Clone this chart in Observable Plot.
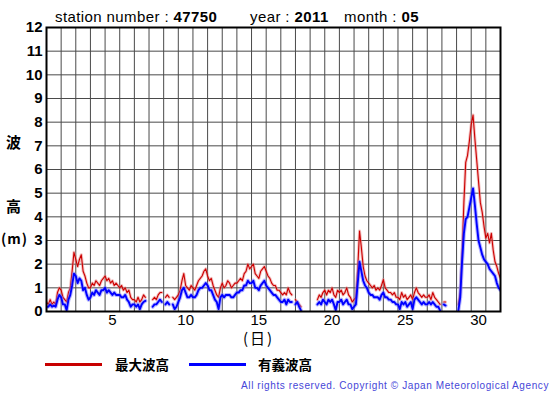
<!DOCTYPE html>
<html><head><meta charset="utf-8">
<script src="https://cdn.jsdelivr.net/npm/d3@7"></script>
<script src="https://cdn.jsdelivr.net/npm/@observablehq/plot@0.6"></script>
<style>
body{margin:0;background:#fff;}
#wrap{position:relative;width:555px;height:395px;overflow:hidden;font-family:"Liberation Sans",Arial,sans-serif;color:#000;}
#chart{position:absolute;left:0;top:0;}
.abs{position:absolute;white-space:nowrap;line-height:16px;}
.ttl{font-size:15px;letter-spacing:0.4px;top:9px;}
.cjk{font-family:"Noto Sans CJK JP","Liberation Sans",sans-serif;font-weight:bold;}
.leg{position:absolute;height:3px;}
</style></head><body>
<div id="wrap">
<div id="chart"></div>
<div class="abs ttl" style="left:55px;">station number : <b>47750</b></div>
<div class="abs ttl" style="left:250px;">year : <b>2011</b></div>
<div class="abs ttl" style="left:344px;">month : <b>05</b></div>
<div class="abs cjk" style="left:6px;top:133px;font-size:15px;line-height:18px;">波</div>
<div class="abs cjk" style="left:6px;top:197px;font-size:15px;line-height:18px;">高</div>
<div class="abs cjk" style="left:1px;top:229px;font-size:14px;line-height:18px;letter-spacing:1px;">(m)</div>
<div class="abs cjk" style="left:243px;top:329px;font-size:15px;line-height:18px;font-weight:normal;letter-spacing:2px;">(日)</div>
<div class="leg" style="left:45px;top:363px;width:57px;background:#c80000;"></div>
<div class="abs cjk" style="left:115px;top:356px;font-size:13.5px;">最大波高</div>
<div class="leg" style="left:189px;top:363px;width:57px;background:#0000ff;"></div>
<div class="abs cjk" style="left:258px;top:356px;font-size:13.5px;">有義波高</div>
<div class="abs" style="right:6px;top:378px;font-size:10px;letter-spacing:0.6px;color:#4646d8;">All rights reserved. Copyright © Japan Meteorological Agency</div>
</div>
<script>
// 3-hourly values from 1 May 00:00 to 1 June 00:00 (null = missing)
const maxWave = [
  0.4, 0.3, 0.5, 0.3, 0.4, 0.3, 0.8, 1.0,
  0.9, 0.6, 0.5, 0.4, 0.8, 1.0, 1.7, 2.5,
  2.2, 1.9, 2.2, 2.4, 1.7, 1.5, 1.2, 1.0,
  1.0, 1.2, 1.1, 1.3, 1.2, 1.1, 1.3, 1.4,
  1.5, 1.3, 1.4, 1.2, 1.3, 1.1, 1.2, 1.1,
  1.0, 1.1, 0.9, 1.0, 0.8, 0.9, 0.6, 0.5,
  0.5, 0.4, 0.6, 0.4, 0.5, 0.7, 0.6, null,
  null, null, 0.5, 0.6, 0.5, 0.7, 0.8, 0.8,
  null, 0.6, 0.7, 0.6, null, 0.6, 0.5, 0.6,
  0.7, 0.9, 1.3, 1.6, 1.1, 1.0, 0.9, 1.1,
  1.0, 0.9, 1.1, 1.3, 1.4, 1.5, 1.7, 1.8,
  1.5, 1.3, 1.4, 1.1, 0.9, 0.7, 0.6, 1.0,
  1.2, 1.0, 1.1, 1.3, 1.2, 1.0, 1.1, 1.2,
  1.2, 1.3, 1.4, 1.3, 1.6, 1.7, 2.0, 1.8,
  1.9, 2.0, 1.6, 1.5, 1.4, 1.7, 1.8, 1.9,
  1.7, 1.5, 1.4, 1.2, 1.1, 1.1, 0.9, 0.9,
  0.8, 0.7, 0.8, 0.7, 1.0, 0.8, 0.7, null,
  0.5, 0.4, 0.3, 0.2, null, null, null, null,
  null, null, null, null, 0.5, 0.7, 0.6, 0.8,
  0.9, 0.7, 0.9, 0.8, 1.0, 0.7, 0.6, 0.9,
  0.8, 0.9, 0.7, 0.8, 1.0, 0.7, 0.6, 0.4,
  0.5, 0.6, 1.8, 3.4, 2.7, 1.9, 1.5, 1.3,
  1.2, 1.1, 1.0, 1.1, 0.9, 1.0, 0.9, 1.1,
  1.35, 1.0, 0.9, 0.8, 0.8, 0.7, 0.8, 0.6,
  0.6, 0.5, 0.8, 0.6, 0.7, 0.5, 0.6, 0.7,
  0.5, 0.8, 1.0, 0.8, 0.7, 0.6, 0.7, 0.6,
  0.6, 0.7, 0.5, 0.8, 0.6, 0.5, 0.4, 0.3,
  null, 0.4, 0.4, null, null, null, null, null,
  null, 0.3, 0.8, 2.4, 4.6, 6.3, 6.6, 7.2,
  7.9, 8.3, 7.3, 6.4, 5.5, 4.6, 4.2, 3.6,
  3.1, 3.3, 2.9, 3.3, 2.6, 2.1, 1.9, 1.6,
  1.4
];
const sigWave = [
  0.2, 0.2, 0.3, 0.2, 0.25, 0.2, 0.5, 0.7,
  0.6, 0.3, 0.3, 0.05, 0.5, 0.7, 1.1, 1.6,
  1.5, 1.2, 1.4, 1.3, 0.9, 1.0, 0.7, 0.5,
  0.6, 0.8, 0.7, 0.9, 0.8, 0.7, 0.9, 0.9,
  1.0, 0.8, 0.9, 0.8, 0.7, 0.8, 0.7, 0.7,
  0.7, 0.6, 0.6, 0.7, 0.5, 0.4, 0.2, 0.3,
  0.3, 0.2, 0.3, 0.1, 0.3, 0.4, 0.45, null,
  null, null, 0.2, 0.3, 0.3, 0.4, 0.5, 0.4,
  null, 0.3, 0.4, 0.3, null, 0.3, 0.1, 0.2,
  0.4, 0.6, 0.9, 1.0, 0.8, 0.6, 0.6, 0.7,
  0.6, 0.6, 0.7, 0.9, 1.0, 1.0, 1.1, 1.2,
  1.1, 0.9, 0.9, 0.7, 0.5, 0.4, 0.1, 0.6,
  0.7, 0.6, 0.7, 0.7, 0.7, 0.6, 0.6, 0.7,
  0.8, 0.8, 0.9, 0.9, 1.1, 1.1, 1.3, 1.2,
  1.2, 1.3, 1.0, 1.0, 0.9, 1.1, 1.2, 1.3,
  1.1, 1.0, 0.9, 0.8, 0.7, 0.7, 0.6, 0.5,
  0.4, 0.4, 0.5, 0.3, 0.5, 0.4, 0.4, null,
  0.3, 0.4, 0.2, 0.05, null, null, null, null,
  null, null, null, null, 0.3, 0.4, 0.3, 0.5,
  0.4, 0.3, 0.5, 0.4, 0.5, 0.3, 0.05, 0.4,
  0.4, 0.5, 0.3, 0.4, 0.5, 0.3, 0.3, 0.1,
  0.2, 0.3, 1.2, 2.1, 1.7, 1.3, 1.1, 1.0,
  0.8, 0.7, 0.7, 0.6, 0.6, 0.6, 0.5, 0.7,
  0.8, 0.6, 0.6, 0.5, 0.5, 0.4, 0.4, 0.3,
  0.3, 0.1, 0.4, 0.3, 0.4, 0.2, 0.3, 0.4,
  0.1, 0.5, 0.6, 0.5, 0.4, 0.3, 0.4, 0.3,
  0.3, 0.4, 0.3, 0.4, 0.3, 0.2, 0.2, 0.05,
  null, 0.3, 0.25, null, null, null, null, null,
  null, 0.05, 0.6, 2.1, 3.3, 3.9, 4.0, 4.4,
  4.8, 5.2, 4.5, 3.7, 3.0, 2.7, 2.4, 2.2,
  2.1, 2.0, 1.8, 1.7, 1.6, 1.5, 1.2, 1.0,
  0.9
];
const xTickDays = [5, 10, 15, 20, 25, 30];
const yTicks = [0, 1, 2, 3, 4, 5, 6, 7, 8, 9, 10, 11, 12];
const stepHours = 3;
const daysInMonth = 31;

const rows = maxWave.map((v, i) => ({t: i * stepHours / 24, max: v, sig: sigWave[i]}));
const dayLines = d3.range(1, daysInMonth);

const chart = Plot.plot({
  width: 555,
  height: 345,
  marginLeft: 46,
  marginRight: 55,
  marginTop: 27,
  marginBottom: 34,
  x: {domain: [0, daysInMonth]},
  y: {domain: [0, 12]},
  style: {fontFamily: "'Liberation Sans', Arial, sans-serif", background: "transparent", color: "#000"},
  marks: [
    Plot.ruleX(dayLines, {stroke: "#4a4a4a", strokeWidth: 1, strokeOpacity: 1}),
    Plot.ruleY(yTicks.slice(1, -1), {stroke: "#4a4a4a", strokeWidth: 1, strokeOpacity: 1}),
    Plot.line(rows, {x: "t", y: "max", stroke: "#e88080", strokeWidth: 3, strokeOpacity: 0.5, clip: true}),
    Plot.line(rows, {x: "t", y: "max", stroke: "#cc0000", strokeWidth: 1.1, clip: true}),
    Plot.line(rows, {x: "t", y: "sig", stroke: "#7070ff", strokeWidth: 4, strokeOpacity: 0.5, clip: true}),
    Plot.line(rows, {x: "t", y: "sig", stroke: "#0000ff", strokeWidth: 1.9, clip: true}),
    Plot.frame({stroke: "#000", strokeWidth: 2}),
    Plot.axisY({ticks: yTicks, tickSize: 0, tickPadding: 4, fontSize: 15, fontWeight: "bold", label: null}),
    Plot.axisX({ticks: xTickDays.map(d => d - 0.5), tickFormat: d => String(Math.round(d + 0.5)), tickSize: 0, tickPadding: 3, fontSize: 15, label: null})
  ]
});
document.getElementById("chart").appendChild(chart);
</script>
</body></html>
